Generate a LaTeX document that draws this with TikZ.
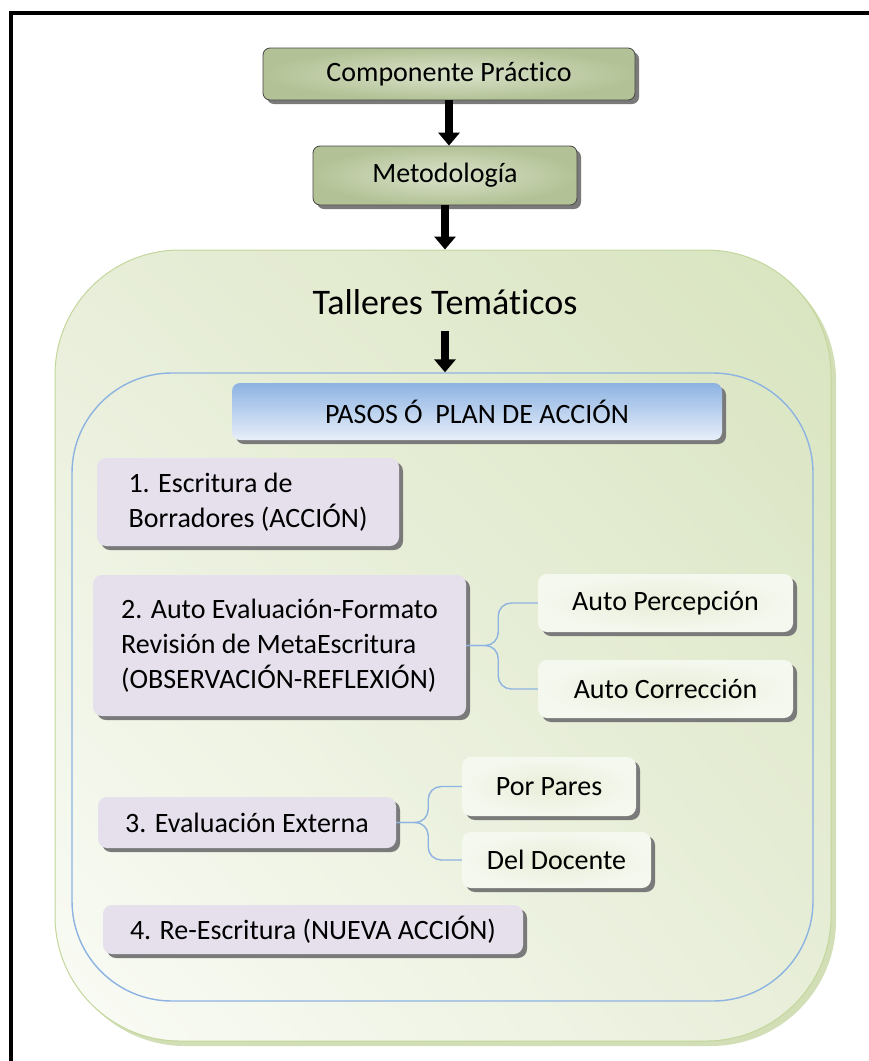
\documentclass[tikz,border=0pt]{standalone}
\usepackage{fontspec}
\setmainfont{Carlito}[RawFeature={-liga;-clig;-calt;-dlig}]
\usetikzlibrary{arrows.meta,shadows,shadings}
\definecolor{olivedark}{HTML}{B3C296}
\definecolor{olivelight}{HTML}{D9E2CA}
\definecolor{boxline}{HTML}{454545}
\definecolor{panelpale}{HTML}{FAFCF6}
\definecolor{panelmid}{HTML}{E8EED9}
\definecolor{panelgreen}{HTML}{D8E4BF}
\definecolor{panelline}{HTML}{C3D69B}
\definecolor{panelshadow}{HTML}{D2DEB6}
\definecolor{stepblue}{HTML}{8DB3E2}
\definecolor{stepsky}{HTML}{E8EFFA}
\definecolor{lavender}{HTML}{E5E0EC}
\definecolor{subpale}{HTML}{F5F8EF}
\definecolor{subgreen}{HTML}{E7EED8}
\begin{document}
\begin{tikzpicture}[x=1pt,y=-1pt,
 every node/.style={font=\fontsize{28}{35}\selectfont, inner sep=0pt},
 boxshadow/.style={drop shadow={shadow xshift=4pt, shadow yshift=-4pt, fill=black!52, opacity=1}},
 greenbox/.style={draw=boxline, line width=0.8pt, rounded corners=7pt, inner color=olivelight, outer color=olivedark, boxshadow},
 stepbox/.style={fill=lavender, rounded corners=9pt, align=left, boxshadow},
 subbox/.style={inner color=subgreen, outer color=subpale, rounded corners=9pt, boxshadow},
 bigarrow/.style={line width=8pt, -{Triangle[width=21pt,length=13pt]}},
 brace/.style={draw=stepblue, line width=1.4pt, rounded corners=13pt}]
\useasboundingbox (0,0) rectangle (869,1061);
\draw[line width=4pt] (11,1061) -- (11,13) -- (869,13);

\node[greenbox, minimum width=372pt, minimum height=52pt] (comp) at (449,74) {Componente Práctico};
\node[greenbox, minimum width=264pt, minimum height=59pt] (metod) at (445,175.5) {Metodología};

% talleres
\node[rounded corners=125pt, draw=panelline, line width=1pt, lower left=panelpale, upper right=panelgreen, upper left=panelmid, lower right=panelmid,
 drop shadow={shadow xshift=5pt, shadow yshift=-5pt, fill=panelshadow, opacity=1},
 minimum width=776pt, minimum height=791pt] (panel) at (443,645.5) {};
\node[font=\fontsize{36}{40}\selectfont] (title) at (445,302) {Talleres Temáticos};
\node[draw=stepblue, line width=1.4pt, rounded corners=100pt, minimum width=741pt, minimum height=628pt] (inner) at (442.5,687) {};

\draw[bigarrow] (comp.south) -- (comp.south |- metod.north);
\draw[bigarrow] (metod.south) -- (metod.south |- panel.north);
\draw[bigarrow] ([yshift=-16pt]title.south) -- (title.south |- inner.north);

% pasos
\node[top color=stepblue, bottom color=stepsky, rounded corners=8pt, boxshadow, minimum width=490pt, minimum height=57pt] (plan) at (477,411.5) {PASOS Ó~ PLAN DE ACCIÓN};
\node[stepbox, minimum width=302pt, minimum height=88pt] (paso1) at (248,502) {1. Escritura de\\Borradores (ACCIÓN)};
\node[stepbox, minimum width=373pt, minimum height=141pt] (paso2) at (279.5,645.5) {2. Auto Evaluación-Formato\\Revisión de MetaEscritura\\(OBSERVACIÓN-REFLEXIÓN)};
\node[stepbox, minimum width=298pt, minimum height=51pt] (paso3) at (247,822.5) {3. Evaluación Externa};
\node[stepbox, minimum width=420pt, minimum height=49pt] (paso4) at (313,929.5) {4. Re-Escritura (NUEVA ACCIÓN)};

\node[subbox, minimum width=255pt, minimum height=58pt] (percep) at (665.5,603) {Auto Percepción};
\node[subbox, minimum width=255pt, minimum height=58pt] (correc) at (665.5,689) {Auto Corrección};
\node[subbox, minimum width=174pt, minimum height=59pt] (pares) at (549,786.5) {Por Pares};
\node[subbox, minimum width=189pt, minimum height=56pt] (docente) at (556.5,860) {Del Docente};

\draw[brace] (paso2.east) -- ++(32,0) |- (percep.west);
\draw[brace] (paso2.east) -- ++(32,0) |- (correc.west);
\draw[brace] (paso3.east) -- ++(32,0) |- (pares.west);
\draw[brace] (paso3.east) -- ++(32,0) |- (docente.west);
\end{tikzpicture}
\end{document}
